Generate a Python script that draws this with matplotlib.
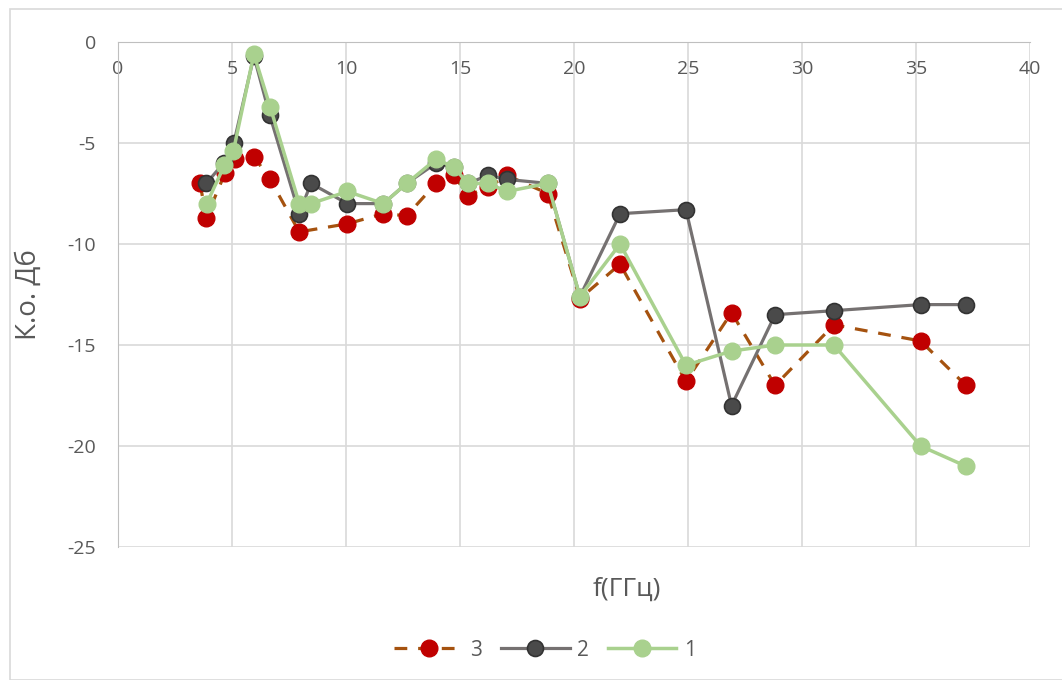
import matplotlib.pyplot as plt
from matplotlib.patches import Rectangle

# --- data ---
f3 = [3.6, 3.87, 4.69, 5.13, 5.98, 6.67, 7.95, 10.06, 11.64, 12.66, 13.95, 14.74,
      15.34, 16.24, 17.05, 18.85, 20.26, 22.02, 24.91, 26.91, 28.82, 31.4, 35.2, 37.19]
ko3 = [-7.0, -8.7, -6.5, -5.8, -5.7, -6.8, -9.4, -9.0, -8.5, -8.6, -7.0, -6.6,
       -7.6, -7.2, -6.6, -7.5, -12.7, -11.0, -16.8, -13.4, -17.0, -14.0, -14.8, -17.0]

f2 = [3.87, 4.63, 5.08, 5.96, 6.65, 7.95, 8.46, 10.06, 11.64, 12.66, 13.95, 14.74,
      15.34, 16.24, 17.05, 18.85, 20.26, 22.02, 24.91, 26.91, 28.82, 31.4, 35.2, 37.19]
ko2 = [-7.0, -6.0, -5.0, -0.7, -3.6, -8.5, -7.0, -8.0, -8.0, -7.0, -6.0, -6.2,
       -7.0, -6.6, -6.8, -7.0, -12.6, -8.5, -8.3, -18.0, -13.5, -13.3, -13.0, -13.0]

f1 = [3.89, 4.67, 5.06, 5.96, 6.67, 7.95, 8.46, 10.06, 11.64, 12.66, 13.95, 14.74,
      15.34, 16.24, 17.05, 18.85, 20.26, 22.02, 24.91, 26.91, 28.82, 31.4, 35.2, 37.19]
ko1 = [-8.0, -6.1, -5.4, -0.6, -3.2, -8.0, -8.0, -7.4, -8.0, -7.0, -5.8, -6.2,
       -7.0, -7.0, -7.4, -7.0, -12.6, -10.0, -16.0, -15.3, -15.0, -15.0, -20.0, -21.0]

x_ticks = [0, 5, 10, 15, 20, 25, 30, 35, 40]
y_ticks = [0, -5, -10, -15, -20, -25]

plt.rcParams['font.family'] = ['Open Sans', 'DejaVu Sans']
plt.rcParams['axes.unicode_minus'] = False
txt = '#595959'
grid_c = '#d9d9d9'

fig = plt.figure(figsize=(10.62, 6.8), dpi=100)
fig.patches.append(Rectangle((10 / 1062, 0), 1.0, 1 - 9 / 680, transform=fig.transFigure,
                             fill=False, edgecolor=grid_c, linewidth=1.2))
ax = fig.add_axes([118 / 1062, 1 - 547 / 680, (1030 - 118) / 1062, (547 - 42) / 680])

ax.plot(f3, ko3, color='#a5520f', linestyle=(0, (4, 3.4)), linewidth=2.3,
        marker='o', markersize=12, markerfacecolor='#c00000', markeredgecolor='#c00000',
        label='3', zorder=3)
ax.plot(f2, ko2, color='#757171', linewidth=2.3,
        marker='o', markersize=11.5, markerfacecolor='#4a4a4a', markeredgecolor='#333333',
        markeredgewidth=1.2, label='2', zorder=4)
ax.plot(f1, ko1, color='#a9d18e', linewidth=2.5,
        marker='o', markersize=12, markerfacecolor='#a9d18e', markeredgecolor='#a9d18e',
        label='1', zorder=5)

ax.set_xlim(0, 40)
ax.set_ylim(-25, 0)
ax.set_xticks(x_ticks)
ax.set_yticks(y_ticks)
ax.grid(True, color=grid_c, linewidth=1.2)
ax.set_axisbelow(True)

ax.spines['bottom'].set_position(('data', 0))
ax.spines['bottom'].set_color('#bfbfbf')
ax.spines['left'].set_color('#bfbfbf')
ax.spines['top'].set_visible(False)
ax.spines['right'].set_visible(False)
ax.tick_params(axis='both', length=0, labelsize=14, colors=txt)
ax.tick_params(axis='x', pad=13)
ax.tick_params(axis='y', pad=16)

ax.set_xlabel('f(ГГц)', fontsize=19, color=txt)
ax.xaxis.set_label_coords(0.558, -0.058)
ax.set_ylabel('К.о. Дб', fontsize=20, color=txt)
ax.yaxis.set_label_coords(-0.082, 0.5)

fig.legend(loc='center', bbox_to_anchor=(545 / 1062, 1 - 650 / 680), ncol=3,
           frameon=False, fontsize=15, labelcolor=txt, handlelength=3.3,
           columnspacing=0.9, handletextpad=0.35)

fig.savefig('out.png', dpi=100, facecolor='white')
